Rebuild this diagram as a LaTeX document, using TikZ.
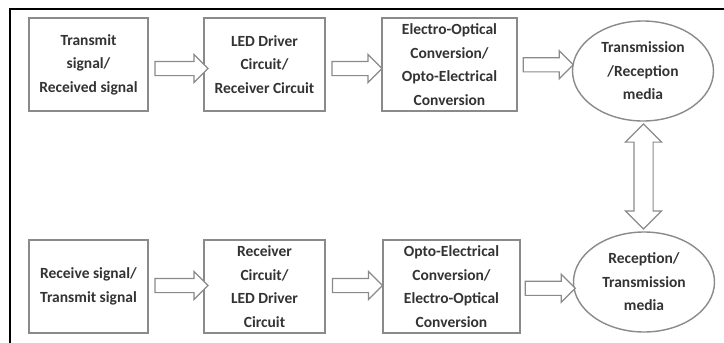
\documentclass[tikz,border=0pt]{standalone}
\usepackage{fontspec}
\setmainfont{Carlito}
\usetikzlibrary{shapes.geometric,shapes.arrows,calc}
\definecolor{boxline}{HTML}{8A8A8A}
\definecolor{textgray}{HTML}{333333}

\tikzset{
  block/.style={draw=boxline, line width=1.4pt, fill=white, text=textgray,
    minimum height=93pt, inner sep=2pt, align=center,
    font=\fontsize{15.5}{23.5}\selectfont\bfseries},
  media/.style={block, ellipse, minimum width=141pt, minimum height=100pt},
  hollow/.style={single arrow, draw=boxline, line width=1.2pt, fill=white,
    inner xsep=0pt, inner ysep=6.5pt, single arrow head extend=7pt},
  hollowtwo/.style={double arrow, draw=boxline, line width=1.2pt, fill=white,
    inner xsep=0pt, inner ysep=9pt, double arrow head extend=8.5pt, rotate=90}
}

\begin{document}
\begin{tikzpicture}[x=1pt, y=-1pt]
    \useasboundingbox (0,0) rectangle (724,343);

    % frame
    \draw[line width=2.4pt, line cap=rect] (10,343) -- (10,9) -- (724,9);

    % upper row
    \node[block, minimum width=119pt] (tx) at (88.5,64.5) {Transmit\\signal/\\Received signal};
    \node[block, minimum width=121pt] (drv) at (264.5,64.5) {LED Driver\\Circuit/\\Receiver Circuit};
    \node[block, minimum width=135pt] (eo) at (449.5,64.5) {Electro-Optical\\Conversion/\\Opto-Electrical\\Conversion};
    \node[media] (tm) at (643,71) {Transmission\\/Reception\\media};

    % lower row
    \node[block, minimum width=119pt] (rx) at (88.5,286.5) {Receive signal/\\Transmit signal};
    \node[block, minimum width=121pt] (rcv) at (264.5,286.5) {Receiver\\Circuit/\\LED Driver\\Circuit};
    \node[block, minimum width=137pt] (oe) at (451.5,286.5) {Opto-Electrical\\Conversion/\\Electro-Optical\\Conversion};
    \node[media] (rm) at (644,282) {Reception/\\Transmission\\media};

    % hollow arrows between blocks
    \node[hollow, minimum height=53pt] (a1) at ($(tx.east)!0.5!(drv.west)+(2,4)$) {};
    \node[hollow, minimum height=50pt] (a2) at ($(drv.east)!0.5!(eo.west)+(0,4)$) {};
    \node[hollow, minimum height=50pt] (a3) at ($(eo.east)!0.5!(tm.west)+(0,-3)$) {};
    \node[hollow, minimum height=53pt] (b1) at ($(rx.east)!0.5!(rcv.west)+(2,-1)$) {};
    \node[hollow, minimum height=50pt] (b2) at ($(rcv.east)!0.5!(oe.west)+(0,-1)$) {};
    \node[hollow, minimum height=50pt] (b3) at ($(oe.east)!0.5!(rm.west)+(0,4)$) {};

    % link between the two media
    \node[hollowtwo, minimum height=105pt] (ab) at ($(tm.south)!0.5!(rm.north)$) {};
\end{tikzpicture}
\end{document}
